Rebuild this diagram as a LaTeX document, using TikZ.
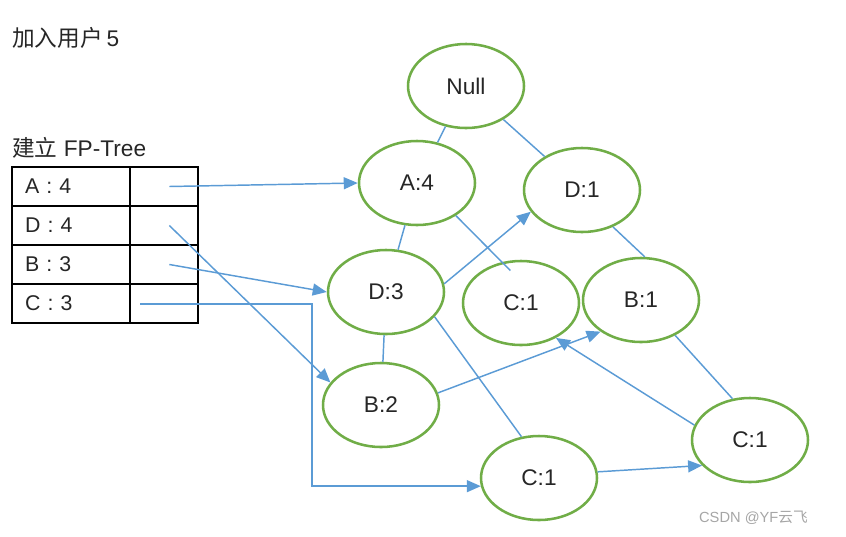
\documentclass[tikz,border=0pt]{standalone}
\usepackage{fontspec}
\setmainfont{Liberation Sans}
\newfontfamily\cjk{Noto Sans CJK SC}
\usetikzlibrary{arrows.meta, calc, positioning, shapes.geometric}
\definecolor{verdeNodo}{RGB}{112,173,71}
\definecolor{azulEnlace}{RGB}{91,155,213}
\definecolor{grisTexto}{RGB}{38,38,38}

\begin{document}
\begin{tikzpicture}[x=0.75pt, y=-0.75pt,
    nodo/.style={ellipse, draw=verdeNodo, line width=1.9pt, minimum width=87pt,
        minimum height=63pt, inner sep=0pt, text=grisTexto, font=\fontsize{17}{19}\selectfont},
    arista/.style={draw=azulEnlace, line width=1.1pt},
    enlace/.style={arista, -{Triangle[length=10.5pt, width=9pt]}},
    celda/.style={draw=black, line width=1.5pt, outer sep=0pt, minimum height=29.25pt,
        text=grisTexto, font=\fontsize{16}{18}\selectfont},
    letra/.style={celda, text width=69pt, inner xsep=9.75pt, align=left},
    puntero/.style={celda, minimum width=51pt, inner sep=0pt},
    titulo/.style={anchor=west, inner sep=0pt, text=grisTexto, font=\fontsize{17}{20}\selectfont}]

    \useasboundingbox (0,0) rectangle (846,536);

    % Títulos
    \node[titulo] (paso) at (12,38) {{\cjk 加入用户}\,5};
    \node[titulo] (arbol) at (12,148) {{\cjk 建立} FP-Tree};

    % Tabla de cabeceras (item : soporte | puntero)
    \node[letra, anchor=north west] (lA) at (12,167) {A : 4};
    \node[puntero, right=0pt of lA] (pA) {};
    \node[letra, below=0pt of lA] (lD) {D : 4};
    \node[puntero, right=0pt of lD] (pD) {};
    \node[letra, below=0pt of lD] (lB) {B : 3};
    \node[puntero, right=0pt of lB] (pB) {};
    \node[letra, below=0pt of lB] (lC) {C : 3};
    \node[puntero, right=0pt of lC] (pC) {};

    % Nodos del árbol
    \node[nodo] (null) at (466,86) {Null};
    \node[nodo] (a4) at (417,183) {A:4};
    \node[nodo] (d1) at (582,190) {D:1};
    \node[nodo] (d3) at (386,292) {D:3};
    \node[nodo] (c1m) at (521,303) {C:1};
    \node[nodo] (b1) at (641,300) {B:1};
    \node[nodo] (b2) at (381,405) {B:2};
    \node[nodo] (c1b) at (539,478) {C:1};
    \node[nodo] (c1r) at (750,440) {C:1};

    % Aristas padre-hijo
    \draw[arista] (null) -- (a4);
    \draw[arista] (null) -- (d1);
    \draw[arista] (a4) -- (d3);
    \draw[arista, shorten >=-9pt] (a4.-40) -- (c1m.115);
    \draw[arista] (d1.-50) -- (b1.85);
    \draw[arista] (d3) -- (b2);
    \draw[arista] (d3.-27) -- (c1b.113);
    \draw[arista] (b1.-46) -- (c1r.113);

    % Enlaces desde la tabla
    \coordinate (giro) at (312,311);
    \draw[enlace] ([xshift=4pt]pA.center) -- (a4.west);
    \draw[enlace] ([xshift=4pt]pD.center) -- (b2.156);
    \draw[enlace] ([xshift=4pt]pB.center) -- (d3.west);
    \draw[enlace] ([xshift=-18pt, yshift=-0.4pt]pC.center) -| (giro |- c1b.188) -- (c1b.188);

    % Enlaces entre nodos del mismo item
    \draw[enlace] (d3.8) -- (d1.203);
    \draw[enlace] (b2.12) -- (b1.218);
    \draw[enlace] (c1r.165) -- (c1m.-45);
    \draw[enlace] (c1b.6) -- (c1r.208);

    % Marca de agua
    \node[anchor=east, inner sep=0pt, text=gray!70, font=\fontsize{11}{13}\selectfont]
        (marca) at (808,518) {CSDN @YF{\cjk 云飞}};
\end{tikzpicture}
\end{document}
